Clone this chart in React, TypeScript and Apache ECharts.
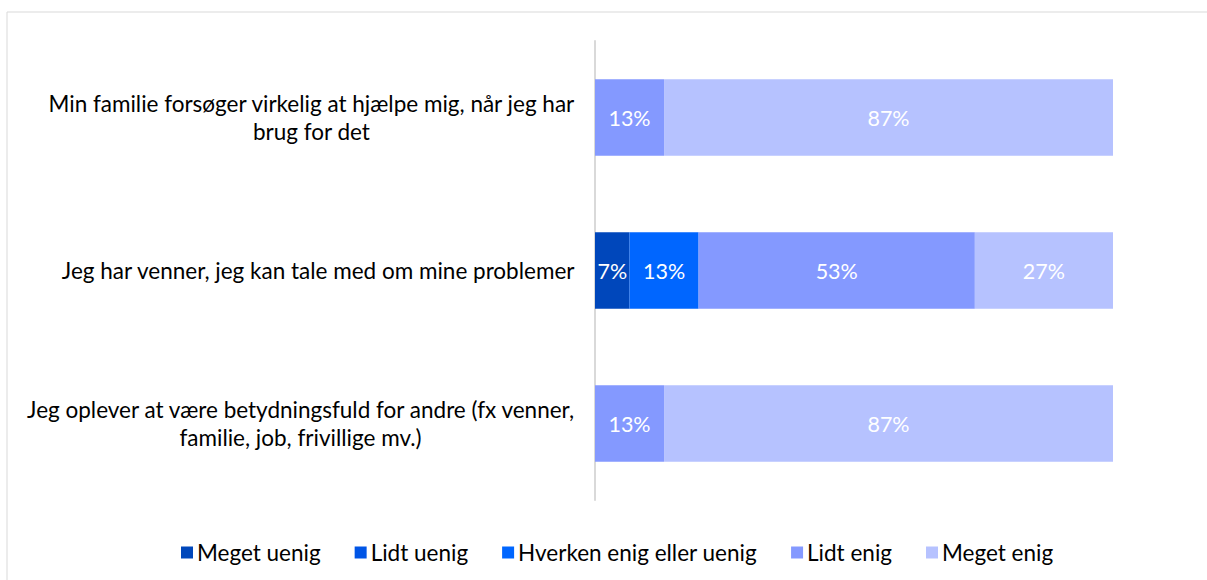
import React, { useEffect, useRef } from "react";
import * as echarts from "echarts";

const categories = [
  "Min familie forsøger virkelig at hjælpe mig, når jeg har\nbrug for det",
  "Jeg har venner, jeg kan tale med om mine problemer",
  "Jeg oplever at være betydningsfuld for andre (fx venner,\nfamilie, job, frivillige mv.)",
];

const seriesNames = [
  "Meget uenig",
  "Lidt uenig",
  "Hverken enig eller uenig",
  "Lidt enig",
  "Meget enig",
];

const megetUenig = [0, 6.67, 0];
const lidtUenig = [0, 0, 0];
const hverken = [0, 13.33, 0];
const lidtEnig = [13.33, 53.33, 13.33];
const megetEnig = [86.67, 26.67, 86.67];

const seriesValues = [megetUenig, lidtUenig, hverken, lidtEnig, megetEnig];
const colors = ["#0047BB", "#0055E6", "#0066FF", "#8499FF", "#B6C2FF"];

const FONT = "Lato";

export default function App() {
  const ref = useRef<HTMLDivElement>(null);
  useEffect(() => {
    if (!ref.current) return;
    const chart = echarts.init(ref.current, undefined, { renderer: "svg" });
    chart.setOption({
      animation: false,
      backgroundColor: "#ffffff",
      textStyle: { fontFamily: FONT },
      graphic: [
        {
          type: "rect",
          shape: { x: 7, y: 12, width: 1220, height: 620 },
          style: { fill: "none", stroke: "#D9D9D9", lineWidth: 1 },
          silent: true,
        },
      ],
      grid: { left: 595, right: 94, top: 41, bottom: 80 },
      xAxis: {
        type: "value",
        min: 0,
        max: 100,
        show: false,
      },
      yAxis: {
        type: "category",
        data: categories,
        inverse: true,
        axisLine: { show: true, lineStyle: { color: "#D9D9D9", width: 2 } },
        axisTick: { show: false },
        axisLabel: {
          margin: 20,
          color: "#000000",
          fontFamily: FONT,
          fontSize: 22.5,
          lineHeight: 28,
          formatter: (v: string) =>
            v
              .split("\n")
              .map((l) => `{c|${l}}`)
              .join("\n"),
          rich: {
            c: {
              align: "center",
              color: "#000000",
              fontFamily: FONT,
              fontSize: 22.5,
              lineHeight: 28,
            },
          },
        },
      },
      legend: {
        left: 176,
        top: 536,
        itemWidth: 12,
        itemHeight: 12,
        itemGap: 34,
        icon: "rect",
        data: seriesNames,
        textStyle: { color: "#000000", fontSize: 22.5, fontFamily: FONT, padding: [0, 0, 0, -1] },
      },
      series: seriesNames.map((name, i) => ({
        name,
        type: "bar",
        stack: "total",
        barWidth: "50%",
        data: seriesValues[i],
        itemStyle: { color: colors[i] },
        label: {
          show: true,
          position: "inside",
          color: "#ffffff",
          fontSize: 21.5,
          fontFamily: FONT,
          formatter: (p: any) => (p.value > 0 ? `${Math.round(p.value)}%` : ""),
        },
      })),
    });
    return () => chart.dispose();
  }, []);
  return (
    <div
      ref={ref}
      style={{ position: "absolute", left: 0, top: 0, width: 1207, height: 580 }}
    />
  );
}
